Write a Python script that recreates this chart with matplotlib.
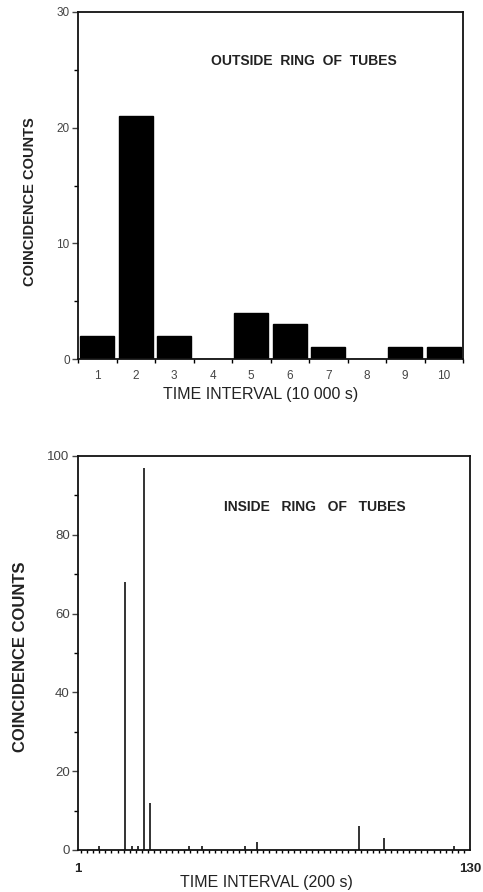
import numpy as np
import matplotlib.pyplot as plt
from matplotlib.ticker import MultipleLocator, FixedLocator

plt.rcParams['font.family'] = ['Liberation Sans', 'DejaVu Sans']

# outside ring: counts per 10 000 s interval
outside_bins = [1, 2, 3, 4, 5, 6, 7, 8, 9, 10]
outside_counts = [2, 21, 2, 0, 4, 3, 1, 0, 1, 1]

# inside ring: counts per 200 s interval (non-zero bins only)
inside_bins = [8, 16.5, 18.7, 20.8, 22.7, 24.7, 37.5, 41.7, 56, 60, 93.6, 101.7, 124.7]
inside_counts = [1, 68, 1, 1, 97, 12, 1, 1, 1, 2, 6, 3, 1]

fig = plt.figure(figsize=(4.83, 8.92), dpi=100)

ink = '#111111'
txt = '#222222'
tick_txt = '#444444'

# ---- top panel
ax1 = fig.add_axes([78/483, 1-359/892, 385/483, 347/892])
ax1.bar(outside_bins, outside_counts, width=0.88, color='black', edgecolor='black')
ax1.set_xlim(0.5, 10.5)
ax1.set_ylim(0, 30)
ax1.yaxis.set_major_locator(MultipleLocator(10))
ax1.yaxis.set_minor_locator(MultipleLocator(5))
ax1.xaxis.set_major_locator(FixedLocator(outside_bins))
ax1.xaxis.set_minor_locator(FixedLocator(np.arange(0.5, 11, 1)))
ax1.tick_params(axis='x', which='major', length=0, pad=8, labelsize=8.5, colors=tick_txt)
ax1.tick_params(axis='x', which='minor', length=3, direction='out', width=1)
ax1.tick_params(axis='y', which='major', length=4, direction='out', width=1, labelsize=8.5, colors=tick_txt, pad=2)
ax1.tick_params(axis='y', which='minor', length=3, direction='out', width=1)
ax1.tick_params(which='both', top=False, right=False)
for s in ax1.spines.values():
    s.set_linewidth(1.3)
    s.set_color(ink)
ax1.text(0.346, 0.86, 'OUTSIDE  RING  OF  TUBES', transform=ax1.transAxes,
         fontsize=10, fontweight='bold', color=txt, ha='left', va='center')
fig.text(261/483, 1-395/892, 'TIME INTERVAL (10 000 s)', fontsize=11.5,
         ha='center', va='center', color=txt)
fig.text(30/483, 1-202/892, 'COINCIDENCE COUNTS', fontsize=10.5, fontweight='bold',
         rotation=90, ha='center', va='center', color=txt)

# ---- bottom panel
ax2 = fig.add_axes([78/483, 1-850/892, 392/483, 394/892])
ax2.vlines(inside_bins, 0, inside_counts, color=ink, linewidth=1.2)
ax2.set_xlim(1, 130)
ax2.set_ylim(0, 100)
ax2.yaxis.set_major_locator(MultipleLocator(20))
ax2.yaxis.set_minor_locator(MultipleLocator(10))
ax2.xaxis.set_major_locator(FixedLocator([1, 130]))
ax2.xaxis.set_minor_locator(MultipleLocator(2))
ax2.tick_params(axis='x', which='major', length=0, pad=9, labelsize=9.5, colors=txt)
ax2.tick_params(axis='x', which='minor', length=2.5, direction='out', width=1)
ax2.tick_params(axis='y', which='major', length=4, direction='out', width=1, labelsize=9.5, colors=tick_txt, pad=2)
ax2.tick_params(axis='y', which='minor', length=3, direction='out', width=1)
ax2.tick_params(which='both', top=False, right=False)
for lbl in ax2.get_xticklabels():
    lbl.set_fontweight('bold')
for s in ax2.spines.values():
    s.set_linewidth(1.3)
    s.set_color(ink)
ax2.text(0.372, 0.87, 'INSIDE   RING   OF   TUBES', transform=ax2.transAxes,
         fontsize=10, fontweight='bold', color=txt, ha='left', va='center')
fig.text(266/483, 1-882/892, 'TIME INTERVAL (200 s)', fontsize=11.5,
         ha='center', va='center', color=txt)
fig.text(21/483, 1-657/892, 'COINCIDENCE COUNTS', fontsize=12, fontweight='bold',
         rotation=90, ha='center', va='center', color=txt)

fig.savefig('out.png', dpi=100)
